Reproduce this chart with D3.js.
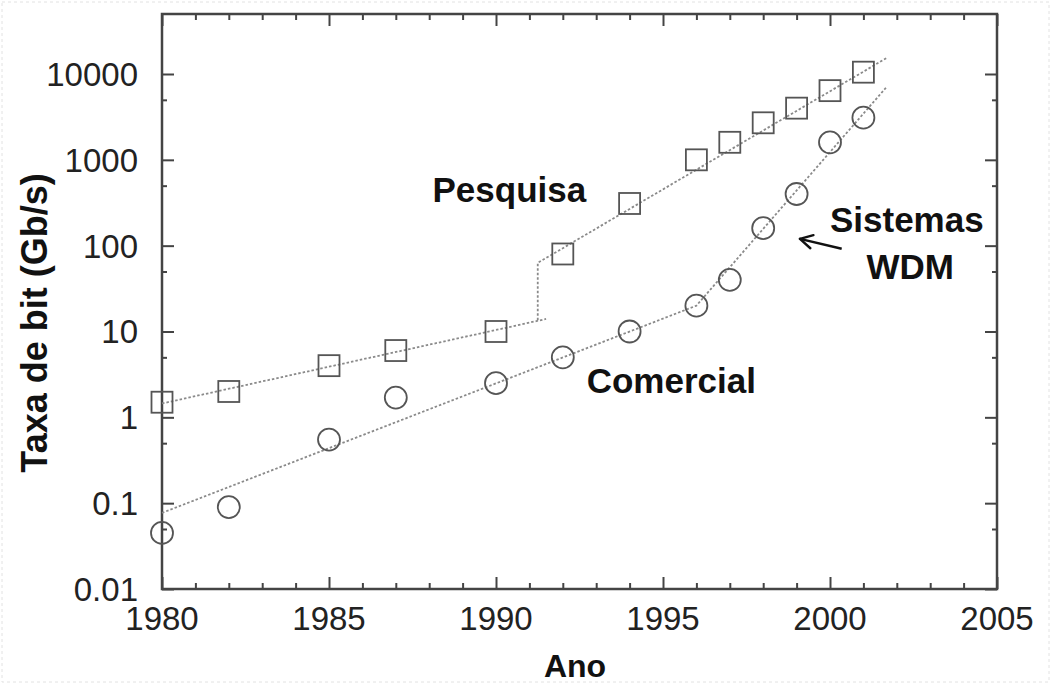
<!DOCTYPE html>
<html>
<head>
<meta charset="utf-8">
<script src="https://cdn.jsdelivr.net/npm/d3@7"></script>
<style>
  html, body { margin: 0; padding: 0; background: #fff; }
  text { font-family: "Liberation Sans", Arial, sans-serif; }
</style>
</head>
<body>
<svg id="chart" width="1051" height="684"></svg>
<script>
// --------------------
//  data
// --------------------
const years = [1980, 1982, 1985, 1987, 1990, 1992, 1994, 1996, 1997, 1998, 1999, 2000, 2001];
const pesquisa = [1.5, 2, 4, 6, 10, 80, 310, 1000, 1600, 2700, 4000, 6400, 10500];
const comercial = [0.045, 0.09, 0.55, 1.7, 2.5, 5, 10, 20, 40, 160, 400, 1600, 3100];

// dotted trend lines [year, value]
const pesquisaTrendA = [[1980, 1.45], [1991.5, 14]];
const pesquisaTrendB = [[1991.25, 13.5], [1991.25, 63], [2001.7, 15400]];
const comercialTrend = [[1980, 0.077], [1996, 20], [2001.7, 7100]];

const xTicks = [1980, 1985, 1990, 1995, 2000, 2005];
const yTicks = [0.01, 0.1, 1, 10, 100, 1000, 10000];
const yTickLabels = ["0.01", "0.1", "1", "10", "100", "1000", "10000"];

// --------------------
//  setup
// --------------------
const svg = d3.select("#chart");
const margin = {left: 162, right: 54, top: 14, bottom: 95};
const W = 1051, H = 684;

const x = d3.scaleLinear().domain([1980, 2005]).range([margin.left, W - margin.right]);
const y = d3.scaleLog().domain([0.01, 50000]).range([H - margin.bottom, margin.top]);

// faint screenshot border
svg.append("rect")
    .attr("x", 2).attr("y", 2).attr("width", W - 4).attr("height", H - 4)
    .attr("fill", "none").attr("stroke", "#e2e2e2").attr("stroke-dasharray", "3,3");

const axisColor = "#444";

// minor ticks
const xMinor = d3.range(1981, 2005).filter(d => d % 5 !== 0);
const yMinor = [0.05, 0.5, 5, 50, 500, 5000];

// ticks inward on all four sides
function ticks(axis, values, size, translate) {
    svg.append("g")
        .attr("transform", translate)
        .call(axis.tickValues(values).tickSize(size).tickFormat(""))
        .call(g => g.selectAll("line").attr("stroke", axisColor).attr("stroke-width", 2))
        .call(g => g.select(".domain").remove());
}
ticks(d3.axisTop(x), xTicks, 12, `translate(0,${y.range()[0]})`);
ticks(d3.axisTop(x), xMinor, 6, `translate(0,${y.range()[0]})`);
ticks(d3.axisBottom(x), xTicks, 12, `translate(0,${y.range()[1]})`);
ticks(d3.axisBottom(x), xMinor, 6, `translate(0,${y.range()[1]})`);
ticks(d3.axisRight(y), yTicks, 12, `translate(${x.range()[0]},0)`);
ticks(d3.axisRight(y), yMinor, 5, `translate(${x.range()[0]},0)`);
ticks(d3.axisLeft(y), yTicks, 12, `translate(${x.range()[1]},0)`);
ticks(d3.axisLeft(y), yMinor, 5, `translate(${x.range()[1]},0)`);

// frame
svg.append("rect")
    .attr("x", x.range()[0]).attr("y", y.range()[1])
    .attr("width", x.range()[1] - x.range()[0])
    .attr("height", y.range()[0] - y.range()[1])
    .attr("fill", "none").attr("stroke", axisColor).attr("stroke-width", 2.5);

// tick labels
svg.append("g").selectAll("text")
    .data(xTicks)
    .join("text")
    .attr("x", d => x(d))
    .attr("y", y.range()[0] + 41)
    .attr("text-anchor", "middle")
    .attr("font-size", "33px")
    .attr("fill", "#222")
    .text(d => d);

svg.append("g").selectAll("text")
    .data(yTicks)
    .join("text")
    .attr("x", x.range()[0] - 24)
    .attr("y", d => y(d) + 12)
    .attr("text-anchor", "end")
    .attr("font-size", "33px")
    .attr("fill", "#222")
    .text((d, i) => yTickLabels[i]);

// axis titles
svg.append("text")
    .attr("x", 575).attr("y", 677)
    .attr("text-anchor", "middle")
    .attr("font-size", "32px").attr("font-weight", "bold")
    .attr("fill", "#111")
    .text("Ano");

svg.append("text")
    .attr("transform", "translate(47,323) rotate(-90)")
    .attr("text-anchor", "middle")
    .attr("font-size", "36px").attr("font-weight", "bold")
    .attr("fill", "#111")
    .text("Taxa de bit (Gb/s)");

// trend lines
const line = d3.line().x(d => x(d[0])).y(d => y(d[1]));
[pesquisaTrendA, pesquisaTrendB, comercialTrend].forEach(t => {
    svg.append("path")
        .attr("d", line(t))
        .attr("fill", "none")
        .attr("stroke", "#8a8a8a")
        .attr("stroke-width", 1.8)
        .attr("stroke-dasharray", "2.5,2");
});

// markers
const markerColor = "#555";
svg.append("g").selectAll("rect")
    .data(years.map((d, i) => [d, pesquisa[i]]))
    .join("rect")
    .attr("x", d => x(d[0]) - 10.5)
    .attr("y", d => y(d[1]) - 10.5)
    .attr("width", 21).attr("height", 21)
    .attr("fill", "none")
    .attr("stroke", markerColor)
    .attr("stroke-width", 1.8);

svg.append("g").selectAll("circle")
    .data(years.map((d, i) => [d, comercial[i]]))
    .join("circle")
    .attr("cx", d => x(d[0]))
    .attr("cy", d => y(d[1]))
    .attr("r", 11)
    .attr("fill", "none")
    .attr("stroke", markerColor)
    .attr("stroke-width", 1.8);

// labels
const labels = [
    {text: "Pesquisa", year: 1990.4, y: 202},
    {text: "Comercial", year: 1995.25, y: 393},
    {text: "Sistemas", year: 2002.3, y: 232},
    {text: "WDM", year: 2002.4, y: 279}
];
svg.append("g").selectAll("text")
    .data(labels)
    .join("text")
    .attr("x", d => x(d.year))
    .attr("y", d => d.y)
    .attr("text-anchor", "middle")
    .attr("font-size", "35px").attr("font-weight", "bold")
    .attr("fill", "#111")
    .text(d => d.text);

// arrow
const arrowFrom = [2000.35, 92], arrowTo = [1999.1, 120];
const x1 = x(arrowFrom[0]), y1 = y(arrowFrom[1]);
const x2 = x(arrowTo[0]), y2 = y(arrowTo[1]);
const ang = Math.atan2(y2 - y1, x2 - x1);
svg.append("line")
    .attr("x1", x1).attr("y1", y1).attr("x2", x2).attr("y2", y2)
    .attr("stroke", "#111").attr("stroke-width", 2.4);
[ang + Math.PI - 0.5, ang + Math.PI + 0.5].forEach(a => {
    svg.append("line")
        .attr("x1", x2).attr("y1", y2)
        .attr("x2", x2 + 14 * Math.cos(a)).attr("y2", y2 + 14 * Math.sin(a))
        .attr("stroke", "#111").attr("stroke-width", 2.4)
        .attr("stroke-linecap", "round");
});
</script>
</body>
</html>
